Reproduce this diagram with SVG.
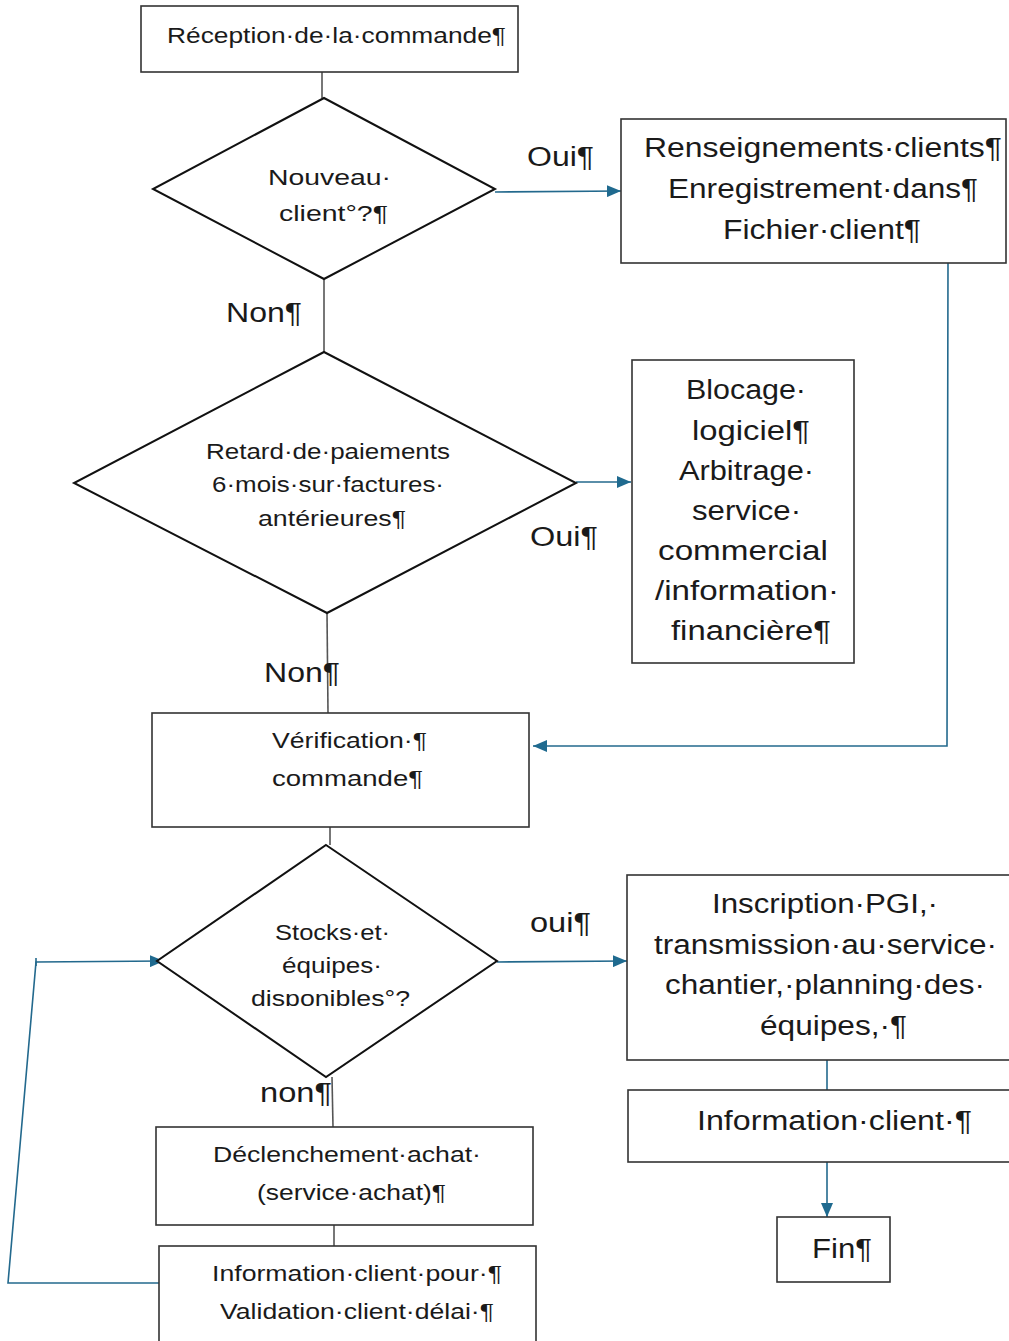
<svg xmlns="http://www.w3.org/2000/svg" width="1009" height="1341" viewBox="0 0 1009 1341">
<style>
.box{fill:#fff;stroke:#333;stroke-width:1.6}
.dia{fill:#fff;stroke:#111;stroke-width:2}
.t{font-family:"Liberation Sans",Arial,sans-serif;fill:#1a1a1a}
.s{font-size:22px}
.l{font-size:27px}
.g{stroke:#555;stroke-width:1.6;fill:none}
.b{stroke:#23698d;stroke-width:1.6;fill:none}
.ba{stroke:#23698d;stroke-width:1.6;fill:none;marker-end:url(#ah)}
</style>
<defs>
<marker id="ah" viewBox="0 0 14 12" refX="14" refY="6" markerWidth="14" markerHeight="12" markerUnits="userSpaceOnUse" orient="auto">
<path d="M0,0 L14,6 L0,12 Z" fill="#1f6a8f"/>
</marker>
<clipPath id="clipStock"><rect x="150" y="840" width="360" height="166"/></clipPath>
</defs>
<rect width="1009" height="1341" fill="#fff"/>

<g id="connectors">
<line class="g" x1="322" y1="72" x2="322" y2="98"/>
<line class="g" x1="324" y1="279" x2="324" y2="352"/>
<line class="g" x1="327" y1="613" x2="328" y2="713"/>
<line class="g" x1="330" y1="827" x2="330" y2="845"/>
<line class="g" x1="332" y1="1077" x2="333" y2="1127"/>
<line class="g" x1="334" y1="1225" x2="334" y2="1246"/>
<line class="ba" x1="495" y1="192" x2="621" y2="191"/>
<line class="ba" x1="576" y1="482" x2="631" y2="482"/>
<polyline class="ba" points="948,263 947,746 533,746"/>
<line class="ba" x1="497" y1="962" x2="627" y2="961"/>
<line class="b" x1="827" y1="1060" x2="827" y2="1090"/>
<line class="ba" x1="827" y1="1162" x2="827" y2="1217"/>
<polyline class="ba" points="159,1283 8,1283 36,962 164,961"/>
<line class="b" x1="36" y1="958" x2="36" y2="966"/>
</g>

<g id="n-reception">
<rect class="box" x="141" y="6" width="377" height="66"/>
<text class="t s" x="167" y="43" textLength="339" lengthAdjust="spacingAndGlyphs">Réception·de·la·commande¶</text>
</g>

<g id="n-nouveau">
<polygon class="dia" points="324,98 495,189 324,279 153,189"/>
<text class="t s" x="268" y="185" textLength="123" lengthAdjust="spacingAndGlyphs">Nouveau·</text>
<text class="t s" x="279" y="221" textLength="109" lengthAdjust="spacingAndGlyphs">client°?¶</text>
</g>
<text id="lbl-oui1" class="t l" x="527" y="166" textLength="67" lengthAdjust="spacingAndGlyphs">Oui¶</text>
<text id="lbl-non1" class="t l" x="226" y="322" textLength="76" lengthAdjust="spacingAndGlyphs">Non¶</text>

<g id="n-renseignements">
<rect class="box" x="621" y="119" width="385" height="144"/>
<text class="t l" x="644" y="157" textLength="358" lengthAdjust="spacingAndGlyphs">Renseignements·clients¶</text>
<text class="t l" x="668" y="198" textLength="310" lengthAdjust="spacingAndGlyphs">Enregistrement·dans¶</text>
<text class="t l" x="723" y="239" textLength="198" lengthAdjust="spacingAndGlyphs">Fichier·client¶</text>
</g>

<g id="n-retard">
<polygon class="dia" points="324,352 576,483 327,613 74,483"/>
<text class="t s" x="206" y="459" textLength="244" lengthAdjust="spacingAndGlyphs">Retard·de·paiements</text>
<text class="t s" x="212" y="492" textLength="232" lengthAdjust="spacingAndGlyphs">6·mois·sur·factures·</text>
<text class="t s" x="258" y="526" textLength="148" lengthAdjust="spacingAndGlyphs">antérieures¶</text>
</g>
<text id="lbl-oui2" class="t l" x="530" y="546" textLength="68" lengthAdjust="spacingAndGlyphs">Oui¶</text>
<text id="lbl-non2" class="t l" x="264" y="682" textLength="76" lengthAdjust="spacingAndGlyphs">Non¶</text>

<g id="n-blocage">
<rect class="box" x="632" y="360" width="222" height="303"/>
<text class="t l" x="686" y="399" textLength="120" lengthAdjust="spacingAndGlyphs">Blocage·</text>
<text class="t l" x="692" y="440" textLength="118" lengthAdjust="spacingAndGlyphs">logiciel¶</text>
<text class="t l" x="679" y="480" textLength="135" lengthAdjust="spacingAndGlyphs">Arbitrage·</text>
<text class="t l" x="692" y="520" textLength="109" lengthAdjust="spacingAndGlyphs">service·</text>
<text class="t l" x="658" y="560" textLength="170" lengthAdjust="spacingAndGlyphs">commercial</text>
<text class="t l" x="655" y="600" textLength="184" lengthAdjust="spacingAndGlyphs">/information·</text>
<text class="t l" x="671" y="640" textLength="160" lengthAdjust="spacingAndGlyphs">financière¶</text>
</g>

<g id="n-verification">
<rect class="box" x="152" y="713" width="377" height="114"/>
<text class="t s" x="272" y="748" textLength="155" lengthAdjust="spacingAndGlyphs">Vérification·¶</text>
<text class="t s" x="272" y="786" textLength="151" lengthAdjust="spacingAndGlyphs">commande¶</text>
</g>

<g id="n-stocks">
<polygon class="dia" points="326,845 497,961 326,1077 157,961"/>
<text class="t s" x="275" y="940" textLength="115" lengthAdjust="spacingAndGlyphs">Stocks·et·</text>
<text class="t s" x="282" y="973" textLength="100" lengthAdjust="spacingAndGlyphs">équipes·</text>
<text class="t s" x="251" y="1006" textLength="159" lengthAdjust="spacingAndGlyphs" clip-path="url(#clipStock)">disponibles°?</text>
</g>
<text id="lbl-oui3" class="t l" x="530" y="932" textLength="61" lengthAdjust="spacingAndGlyphs">oui¶</text>
<text id="lbl-non3" class="t l" x="260" y="1102" textLength="72" lengthAdjust="spacingAndGlyphs">non¶</text>

<g id="n-inscription">
<rect class="box" x="627" y="875" width="390" height="185"/>
<text class="t l" x="712" y="913" textLength="226" lengthAdjust="spacingAndGlyphs">Inscription·PGI,·</text>
<text class="t l" x="654" y="954" textLength="343" lengthAdjust="spacingAndGlyphs">transmission·au·service·</text>
<text class="t l" x="665" y="994" textLength="320" lengthAdjust="spacingAndGlyphs">chantier,·planning·des·</text>
<text class="t l" x="760" y="1035" textLength="147" lengthAdjust="spacingAndGlyphs">équipes,·¶</text>
</g>

<g id="n-infoclient">
<rect class="box" x="628" y="1090" width="390" height="72"/>
<text class="t l" x="697" y="1130" textLength="275" lengthAdjust="spacingAndGlyphs">Information·client·¶</text>
</g>

<g id="n-fin">
<rect class="box" x="777" y="1217" width="113" height="65"/>
<text class="t l" x="812" y="1258" textLength="60" lengthAdjust="spacingAndGlyphs">Fin¶</text>
</g>

<g id="n-declenchement">
<rect class="box" x="156" y="1127" width="377" height="98"/>
<text class="t s" x="213" y="1162" textLength="268" lengthAdjust="spacingAndGlyphs">Déclenchement·achat·</text>
<text class="t s" x="257" y="1200" textLength="189" lengthAdjust="spacingAndGlyphs">(service·achat)¶</text>
</g>

<g id="n-infopour">
<rect class="box" x="159" y="1246" width="377" height="110"/>
<text class="t s" x="212" y="1281" textLength="290" lengthAdjust="spacingAndGlyphs">Information·client·pour·¶</text>
<text class="t s" x="220" y="1319" textLength="274" lengthAdjust="spacingAndGlyphs">Validation·client·délai·¶</text>
</g>
</svg>
